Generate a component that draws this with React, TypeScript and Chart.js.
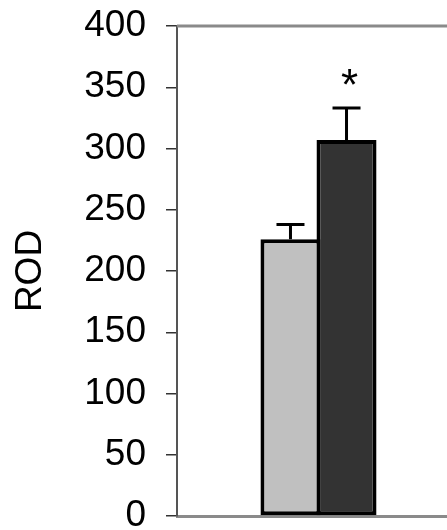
import React, { useEffect, useRef } from "react";
import { Chart, registerables } from "chart.js";

Chart.register(...registerables);

const categories = [""];
const seriesLabels = ["Control", "Treated"];
const controlValues = [226];
const treatedValues = [307];
const controlErrors = [12];
const treatedErrors = [26];
const significanceMarks = ["", "*"];
const starValue = 360;
const yTickMin = 0;
const yTickMax = 400;
const yTickStep = 50;
const yTitle = "ROD";

const FONT = "'Liberation Sans', Arial, Helvetica, sans-serif";

const overlayPlugin = {
  id: "overlay",
  afterDatasetsDraw(chart: any) {
    const { ctx, chartArea, scales } = chart;
    const y = scales.y;
    ctx.save();
    ctx.strokeStyle = "#8a8a8a";
    ctx.lineWidth = 3;
    ctx.beginPath();
    ctx.moveTo(chartArea.left, chartArea.top);
    ctx.lineTo(chartArea.right, chartArea.top);
    ctx.stroke();

    const errs = [controlErrors, treatedErrors];
    chart.data.datasets.forEach((ds: any, di: number) => {
      const meta = chart.getDatasetMeta(di);
      meta.data.forEach((bar: any, i: number) => {
        const v = ds.data[i];
        const e = errs[di][i];
        const x = bar.x;
        const yTop = y.getPixelForValue(v);
        const yErr = y.getPixelForValue(v + e);
        ctx.strokeStyle = "#000";
        ctx.lineWidth = 3;
        ctx.beginPath();
        ctx.moveTo(x, yTop);
        ctx.lineTo(x, yErr);
        ctx.moveTo(x - 14, yErr);
        ctx.lineTo(x + 14, yErr);
        ctx.stroke();
        const mark = significanceMarks[di];
        if (mark) {
          const fs = 44;
          ctx.font = `${fs}px ${FONT}`;
          ctx.fillStyle = "#000";
          ctx.textAlign = "center";
          ctx.textBaseline = "alphabetic";
          ctx.fillText(mark, x + 3, y.getPixelForValue(starValue) + fs * 0.57);
        }
      });
    });
    ctx.restore();
  },
};

export default function App() {
  const ref = useRef<HTMLCanvasElement | null>(null);
  useEffect(() => {
    if (!ref.current) return;
    const chart = new Chart(ref.current, {
      type: "bar",
      data: {
        labels: categories,
        datasets: [
          {
            label: seriesLabels[0],
            data: controlValues,
            backgroundColor: "#c0c0c0",
            borderColor: "#000",
            borderWidth: 4,
            borderSkipped: false,
          },
          {
            label: seriesLabels[1],
            data: treatedValues,
            backgroundColor: "#333333",
            borderColor: "#000",
            borderWidth: 4,
            borderSkipped: false,
          },
        ],
      },
      options: {
        animation: false,
        responsive: false,
        maintainAspectRatio: false,
        layout: { padding: { top: 26, bottom: 14, left: 0, right: 0 } },
        plugins: { legend: { display: false }, tooltip: { enabled: false } },
        datasets: { bar: { categoryPercentage: 0.396, barPercentage: 1.0714 } },
        scales: {
          x: {
            grid: { display: false },
            ticks: { display: false },
            border: { display: true, color: "#8a8a8a", width: 3 },
            afterFit: (s: any) => {
              s.height = 0;
              s.paddingLeft = 0;
              s.paddingRight = 0;
            },
          },
          y: {
            min: yTickMin,
            max: yTickMax,
            ticks: {
              stepSize: yTickStep,
              color: "#000",
              padding: 20,
              font: { family: FONT, size: 37 },
            },
            grid: {
              drawOnChartArea: false,
              drawTicks: true,
              tickLength: 11,
              tickColor: "#333",
              lineWidth: 1.5,
            },
            border: { display: true, color: "#555", width: 2 },
            title: {
              display: true,
              text: yTitle,
              color: "#000",
              font: { family: FONT, size: 37 },
              padding: { top: 9, bottom: 0 },
            },
            afterFit: (s: any) => {
              s.width = 177;
              s.paddingTop = 0;
              s.paddingBottom = 0;
            },
          },
        },
      },
      plugins: [overlayPlugin],
    });
    return () => chart.destroy();
  }, []);
  return (
    <div style={{ position: "fixed", left: 0, top: 0, width: 460, height: 530, overflow: "hidden" }}>
      <canvas ref={ref} width={460} height={530} style={{ display: "block" }} />
    </div>
  );
}
